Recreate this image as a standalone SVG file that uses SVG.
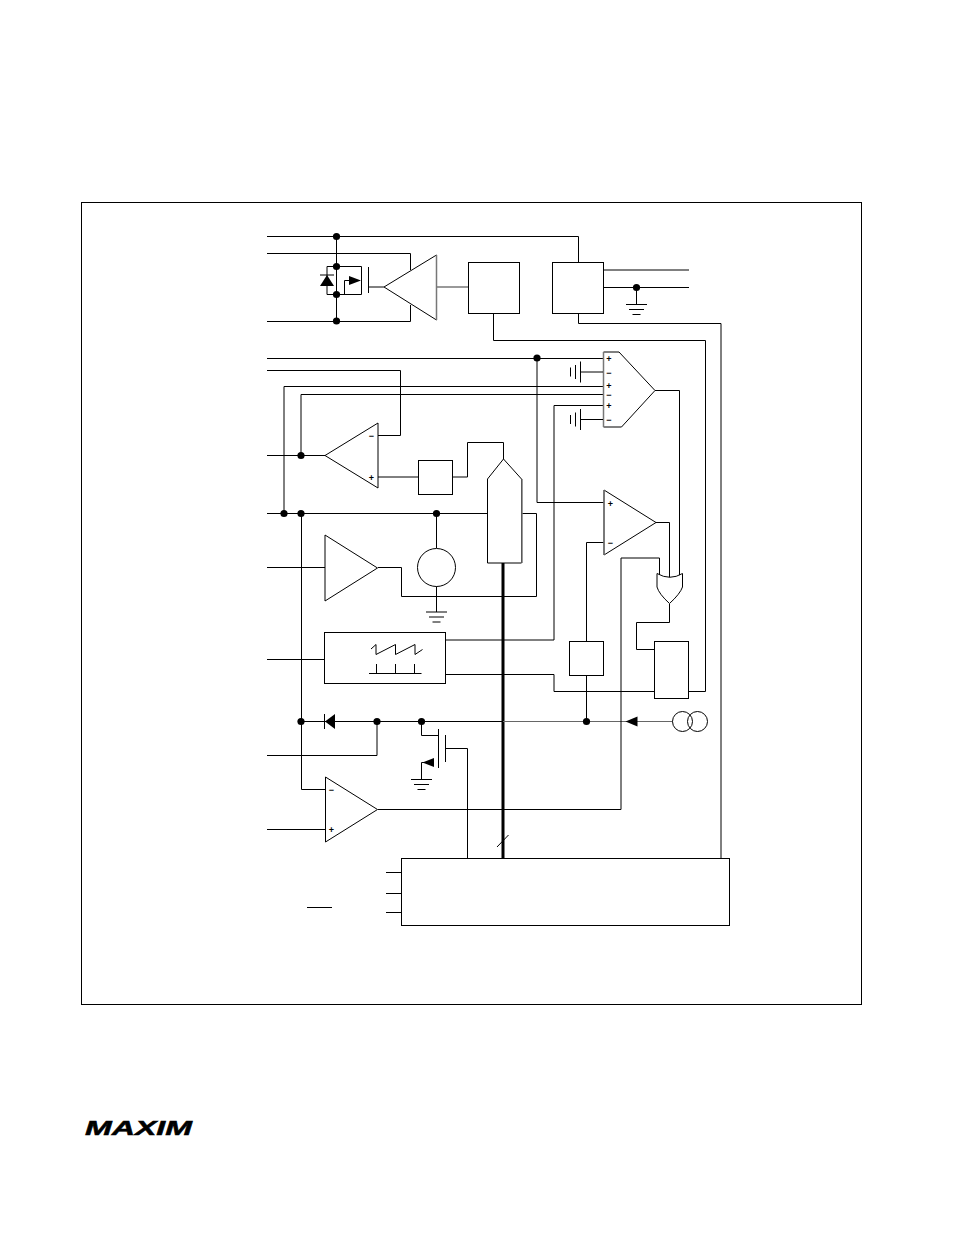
<svg xmlns="http://www.w3.org/2000/svg" width="954" height="1235" viewBox="0 0 954 1235">
<style>
.w{fill:none;stroke:#000;stroke-width:1}
.g{fill:none;stroke:#777;stroke-width:1.5}
.l{fill:none;stroke:#666;stroke-width:1}
.s{fill:#fff;stroke:#000;stroke-width:1}
.n{fill:none;stroke:#000;stroke-width:1}
.e{fill:none;stroke:#777;stroke-width:1.5}
.d{fill:#000;stroke:none}
.b{fill:none;stroke:#000;stroke-width:3}
.t{font-family:"Liberation Sans",Arial,sans-serif;font-size:9px;font-weight:bold;text-anchor:middle;fill:#000;opacity:.99}
</style>
<defs>
<circle id="dot" r="3.6" class="d"/>
<g id="gnd"><path class="n" d="M-10.500 0H10.500M-7.500 5H7.500M-4 10H4"/></g>
<g id="cap"><path class="n" d="M0.500-4.500V4.500M5.500-7V7M10.500-10.500V10.500M10.500 0H33"/></g>
</defs>
<rect id="frame" x="81.500" y="202.500" width="780" height="802" class="n"/>
<g id="connectors">
<path class="w" d="M267 236.500H578.500V262M336.500 236.500V321M267 253.500H410.500V270M267 321.500H410.500V305"/>
<path class="g" d="M437 287H468"/>
<path class="w" d="M369 287H384"/>
<path class="w" d="M336.500 266.500H327V294.500H361.500M336.500 266.500H361.500V294.500M344.500 294.500V280.500H350"/>
<path class="w" d="M604 270H689M604 287.500H689M636.500 287.500V305"/>
<path class="w" d="M493.500 313V340.500H705.500V691.500H689M578.500 313V323.500H721V858"/>
<path class="w" d="M267 358.500H603M537 358.500V502.500H604M267 370.500H400.500V435.500H378M284 513.500V386.500H603M301 455.500V394.500H603M554 640H445M554 640V405.500H603"/>
<path class="w" d="M655 390.500H679.500V576"/>
<path class="w" d="M267 455.500H325M378 477H418M453 477H467.500V442.500H503.500V459"/>
<path class="w" d="M267 513.500H487M436.500 513.500V548M436.500 586V612"/>
<path class="w" d="M522 513.500H536.500V596.500H401.500V567.500H378M267 567.500H325"/>
<path class="b" d="M503 563V858"/>
<path class="w" d="M301.500 513.500V789.500H325.500M267 659.500H325M445 674.500H554V691.500H654.500"/>
<path class="w" d="M301.500 721.500H377M377 721.500V755.500H267M377 721.500H421.500M421.500 721.500H503"/>
<path class="l" d="M503 721.500H672.500"/>
<path class="w" d="M421.500 721.500V735.500H438.500M421.500 762.500V779.500M421.500 762.500H426M445.500 748.500H467.500V858"/>
<path class="w" d="M267 829.500H325.500M378 809.500H621V558H659.500V578"/>
<path class="w" d="M656 522.500H669.500V578M604 542.500H586.500V641M586.500 675V721"/>
<path class="w" d="M669.500 604V622.500H636.500V649.500H654.500"/>
<path class="w" d="M386 872.500H401M386 893.500H401M386 912.500H401M307 907.500H332"/>
<path class="w" d="M497 847L508.500 835"/>
</g>
<g id="junctions">
<use href="#dot" x="336.500" y="236.500"/><use href="#dot" x="336.500" y="266.500"/><use href="#dot" x="336.500" y="294.500"/><use href="#dot" x="336.500" y="321"/>
<use href="#dot" x="636.500" y="287.500"/><use href="#dot" x="537" y="358"/><use href="#dot" x="301" y="455.500"/><use href="#dot" x="284" y="513.500"/><use href="#dot" x="301" y="513.500"/><use href="#dot" x="436.500" y="513.500"/>
<use href="#dot" x="301" y="721.500"/><use href="#dot" x="377" y="721.500"/><use href="#dot" x="421.500" y="721.500"/><use href="#dot" x="586.500" y="721.500"/>
</g>
<g id="power-fet">
<path class="d" d="M327 275L334 286H320Z"/>
<path class="w" d="M320 275H334"/>
<path class="d" d="M361 280.500L349 276V285Z"/>
<path class="w" d="M368.500 267V293"/>
</g>
<g id="driver-amp"><path class="s" d="M436.500 255L384 287L436.500 320" /><path class="e" d="M436.500 255V320"/></g>
<g id="box-a"><rect x="468.500" y="262.500" width="51" height="51" class="s"/></g>
<g id="box-b"><rect x="552.500" y="262.500" width="51" height="51" class="s"/></g>
<g id="ground-top"><use href="#gnd" x="636.500" y="304.500"/></g>
<g id="multi-comparator">
<path class="s" d="M603.500 352H619L655 390.500L621.500 427H603.500Z"/>
<path class="e" d="M603.500 352V427"/>
<text class="t" x="609" y="361.500">+</text><text class="t" x="609" y="375.500">−</text><text class="t" x="609" y="389">+</text><text class="t" x="609" y="397.500">−</text><text class="t" x="609" y="408.500">+</text><text class="t" x="609" y="422.500">−</text>
</g>
<g id="cap-1"><use href="#cap" x="570" y="372"/></g>
<g id="cap-2"><use href="#cap" x="570" y="419.500"/></g>
<g id="error-amp"><path class="s" d="M378 423L325 455.500L378 488Z"/><text class="t" x="371.500" y="438.500">−</text><text class="t" x="371.500" y="480.500">+</text></g>
<g id="box-c"><rect x="418.500" y="460.500" width="34" height="34" class="s"/></g>
<g id="mux"><path class="s" d="M487.500 479L503.500 459L521.500 479V563H487.500Z"/><path class="e" d="M522 479V563"/></g>
<g id="buffer"><path class="s" d="M325 535L377.500 568L325 601Z"/></g>
<g id="reference"><circle cx="436.500" cy="567.500" r="19" class="s"/><use href="#gnd" x="436.500" y="612"/></g>
<g id="oscillator">
<rect x="324.500" y="632.500" width="121" height="51" class="s"/>
<path class="w" d="M371 649L376 644.500V654.500L395.500 644.500V654.500L415 644.500V654.500L422.500 649.500"/>
<path class="w" d="M369 673.500H421.500M376.500 664V673.500M395.500 664V673.500M414.500 664V673.500"/>
</g>
<g id="diode"><path class="d" d="M325 721.500L335 714V729Z"/><path class="w" d="M324.500 714V729"/></g>
<g id="low-fet">
<path class="w" d="M438.500 729V768M445.500 735V762"/>
<path class="d" d="M422.500 762.500L434 758V767Z"/>
<use href="#gnd" x="421.500" y="779.500"/>
</g>
<g id="comparator-3"><path class="s" d="M325.500 777L377.500 809.500L325.500 842Z"/><text class="t" x="331.500" y="792.500">−</text><text class="t" x="331.500" y="832.500">+</text></g>
<g id="comparator-2"><path class="s" d="M604 490L656 522.500L604 555Z"/><path class="e" d="M604 490V555"/><text class="t" x="610.500" y="506.500">+</text><text class="t" x="610.500" y="545.500">−</text></g>
<g id="or-gate"><path class="s" d="M657 573.500Q670 581 682.500 573.500V587Q680 594 669.500 603.500Q659 594 657 587Z"/></g>
<g id="box-d"><rect x="569.500" y="641.500" width="34" height="34" class="s"/></g>
<g id="latch"><rect x="654.500" y="641.500" width="34" height="57" class="s"/></g>
<g id="current-source"><path class="d" d="M625.500 721.500L637.500 716.500V726.500Z"/><circle cx="682.500" cy="721.500" r="10" class="n"/><circle cx="697.500" cy="721.500" r="10" class="n"/></g>
<g id="control-logic"><rect x="401.500" y="858.500" width="328" height="67" class="s"/></g>
<text id="logo" x="85" y="1135" font-family="Liberation Sans, Arial, sans-serif" font-size="20" font-weight="bold" font-style="italic" textLength="107" lengthAdjust="spacingAndGlyphs" fill="#000" stroke="#000" stroke-width=".5">MAXIM</text>
</svg>
